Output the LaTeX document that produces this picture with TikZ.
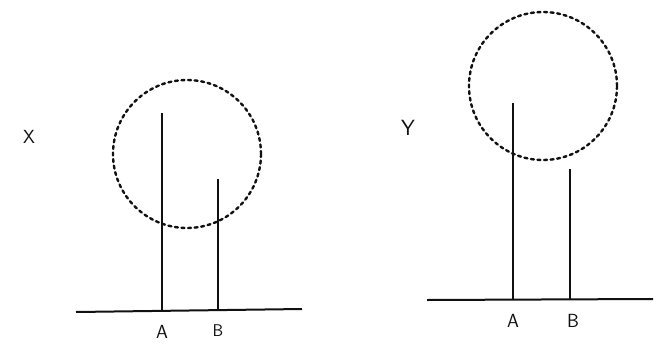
\documentclass[tikz,border=0pt]{standalone}
\usepackage{xcolor}
\usepackage{tikz}
\usetikzlibrary{positioning,calc}
\definecolor{ink}{HTML}{111111}

\begin{document}
\begin{tikzpicture}[x=1pt,y=-1pt,
  ground/.style={draw=ink,line width=2pt},
  pole/.style={draw=ink,line width=1.8pt},
  zone/.style={draw=ink,line width=2.4pt,dash pattern=on 3pt off 3.6pt,line cap=round},
  tag/.style={font=\sffamily\fontsize{19}{19}\selectfont,text=ink,inner sep=0pt}]
\useasboundingbox (0,0) rectangle (659,354);
% case X
\coordinate (xl) at (76,312);
\coordinate (xr) at (302,309);
\coordinate (xa) at (162,311);
\coordinate (xb) at (218,310);
\draw[ground] (xl) -- (xr);
\draw[pole] (xa) -- ++(0,-198) coordinate (xatop);
\draw[pole] (xb) -- ++(0,-131) coordinate (xbtop);
\draw[zone] (187,154) circle (74);
\node[tag] (xname) at (29,137) {X};
\node[tag,below=14pt of xa] (xalab) {A};
\node[tag,font=\sffamily\fontsize{17}{17}\selectfont,below=14pt of xb] (xblab) {B};
% case Y
\coordinate (yl) at (427,300);
\coordinate (yr) at (653,299);
\coordinate (ya) at (513,300);
\coordinate (yb) at (570,300);
\draw[ground] (yl) -- (yr);
\draw[pole] (ya) -- ++(0,-197) coordinate (yatop);
\draw[pole] (yb) -- ++(0,-131) coordinate (ybtop);
\draw[zone] (543,86) circle (74);
\node[tag,font=\sffamily\fontsize{22}{22}\selectfont] (yname) at (408,128) {Y};
\node[tag,below=14pt of ya] (yalab) {A};
\node[tag,below=14pt of yb,xshift=3pt] (yblab) {B};
\end{tikzpicture}
\end{document}
